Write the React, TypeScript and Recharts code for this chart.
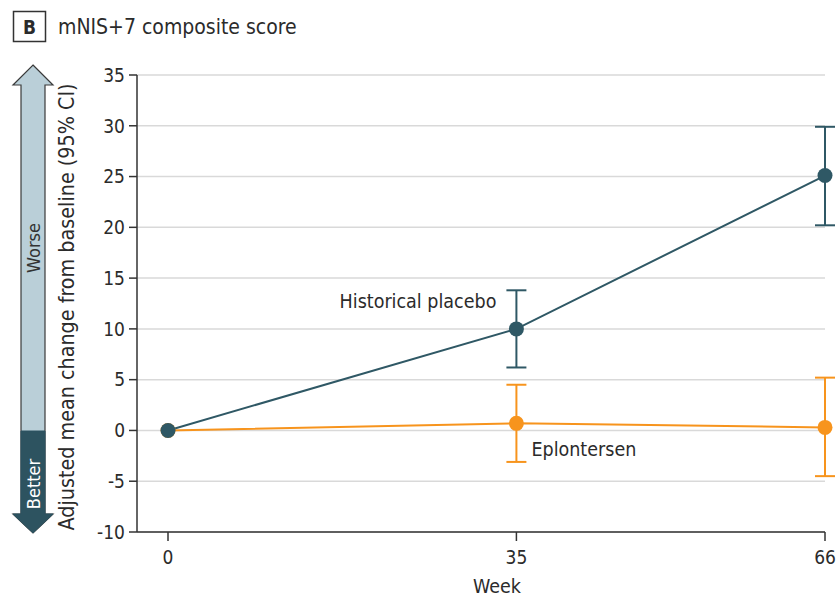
import React from "react";
import {
  LineChart,
  Line,
  XAxis,
  YAxis,
  CartesianGrid,
  ErrorBar,
} from "recharts";

// Weeks of assessment
const weeks = [0, 35, 66];

// Historical placebo: adjusted mean change and 95% CI bounds
const placeboMean = [0, 10.0, 25.1];
const placeboLow = [0, 6.2, 20.2];
const placeboHigh = [0, 13.8, 29.9];

// Eplontersen: adjusted mean change and 95% CI bounds
const eplonMean = [0, 0.7, 0.3];
const eplonLow = [0, -3.1, -4.5];
const eplonHigh = [0, 4.5, 5.2];

const yTicks = [-10, -5, 0, 5, 10, 15, 20, 25, 30, 35];
const xTicks = [0, 35, 66];

const FONT = "'DejaVu Sans Condensed', 'Liberation Sans Narrow', 'Roboto', sans-serif";
const TEXT = "#2b2b2b";
const PLACEBO = "#2f5865";
const EPLON = "#f7941d";

const data = weeks.map((w, i) => ({
  week: w,
  placebo: placeboMean[i],
  placeboErr: i === 0 ? null : [placeboMean[i] - placeboLow[i], placeboHigh[i] - placeboMean[i]],
  eplon: eplonMean[i],
  eplonErr: i === 0 ? null : [eplonMean[i] - eplonLow[i], eplonHigh[i] - eplonMean[i]],
}));

const PlaceboLabel = (props: any) => {
  const { x, y, index } = props;
  if (index !== 1) return null;
  return (
    <text x={x - 20} y={y - 21} textAnchor="end" fontFamily={FONT} fontSize={19.5} fill={TEXT}>
      Historical placebo
    </text>
  );
};

const EplonLabel = (props: any) => {
  const { x, y, index } = props;
  if (index !== 1) return null;
  return (
    <text x={x + 15} y={y + 33} textAnchor="start" fontFamily={FONT} fontSize={19.5} fill={TEXT}>
      Eplontersen
    </text>
  );
};

export default function App() {
  return (
    <div style={{ position: "absolute", left: 0, top: 0, width: 838, height: 601, background: "#fff" }}>
      <LineChart
        width={838}
        height={601}
        data={data}
        margin={{ top: 75, right: 13, bottom: 0, left: 0 }}
      >
        <CartesianGrid horizontal vertical={false} stroke="#d9d9d9" strokeWidth={1.5} />
        <XAxis
          dataKey="week"
          type="number"
          domain={[0, 66]}
          ticks={xTicks}
          padding={{ left: 31, right: 0 }}
          height={69}
          tickSize={9}
          tickMargin={10}
          stroke="#333"
          strokeWidth={1.5}
          tick={{ fill: TEXT, fontSize: 19, fontFamily: FONT }}
        />
        <YAxis
          type="number"
          domain={[-10, 35]}
          ticks={yTicks}
          width={137}
          tickSize={8}
          tickMargin={4}
          stroke="#333"
          strokeWidth={1.5}
          tick={{ fill: TEXT, fontSize: 19, fontFamily: FONT }}
        />
        <Line
          dataKey="eplon"
          stroke={EPLON}
          strokeWidth={2}
          dot={{ r: 7.5, fill: EPLON, stroke: EPLON, strokeWidth: 0 }}
          activeDot={false}
          isAnimationActive={false}
          label={<EplonLabel />}
        >
          <ErrorBar dataKey="eplonErr" width={10} stroke={EPLON} strokeWidth={2} direction="y" />
        </Line>
        <Line
          dataKey="placebo"
          stroke={PLACEBO}
          strokeWidth={2}
          dot={{ r: 7.5, fill: PLACEBO, stroke: PLACEBO, strokeWidth: 0 }}
          activeDot={false}
          isAnimationActive={false}
          label={<PlaceboLabel />}
        >
          <ErrorBar dataKey="placeboErr" width={10} stroke={PLACEBO} strokeWidth={2} direction="y" />
        </Line>
      </LineChart>
      <svg
        width={838}
        height={601}
        style={{ position: "absolute", left: 0, top: 0, pointerEvents: "none" }}
      >
        {/* panel letter and title */}
        <rect x={13.5} y={11.5} width={32} height={30} fill="none" stroke="#333" strokeWidth={1.5} />
        <text x={29.5} y={33.5} textAnchor="middle" fontFamily={FONT} fontSize={19} fontWeight="bold" fill={TEXT}>
          B
        </text>
        <text x={58} y={33.5} fontFamily={FONT} fontSize={21} fill={TEXT}>
          mNIS+7 composite score
        </text>

        {/* worse / better arrow */}
        <polygon
          points="33,65 53,85 45,85 45,514 53,514 33,533 13,514 21,514 21,85 13,85"
          fill="#bacfd8"
          stroke="#3a3a3a"
          strokeWidth={1.2}
        />
        <polygon
          points="21,431 45,431 45,514 53,514 33,533 13,514 21,514"
          fill="#2d5360"
          stroke="#2d5360"
          strokeWidth={1}
        />
        <text
          transform="translate(39.5,248) rotate(-90)"
          textAnchor="middle"
          fontFamily={FONT}
          fontSize={18}
          fill="#333"
        >
          Worse
        </text>
        <text
          transform="translate(39.5,484) rotate(-90)"
          textAnchor="middle"
          fontFamily={FONT}
          fontSize={18}
          fill="#fff"
        >
          Better
        </text>

        {/* y-axis title */}
        <text
          transform="translate(74,307) rotate(-90)"
          textAnchor="middle"
          fontFamily={FONT}
          fontSize={20.5}
          textLength={447}
          lengthAdjust="spacingAndGlyphs"
          fill={TEXT}
        >
          Adjusted mean change from baseline (95% CI)
        </text>

        {/* x-axis title */}
        <text x={497} y={593} textAnchor="middle" fontFamily={FONT} fontSize={19.5} fill={TEXT}>
          Week
        </text>
      </svg>
    </div>
  );
}
